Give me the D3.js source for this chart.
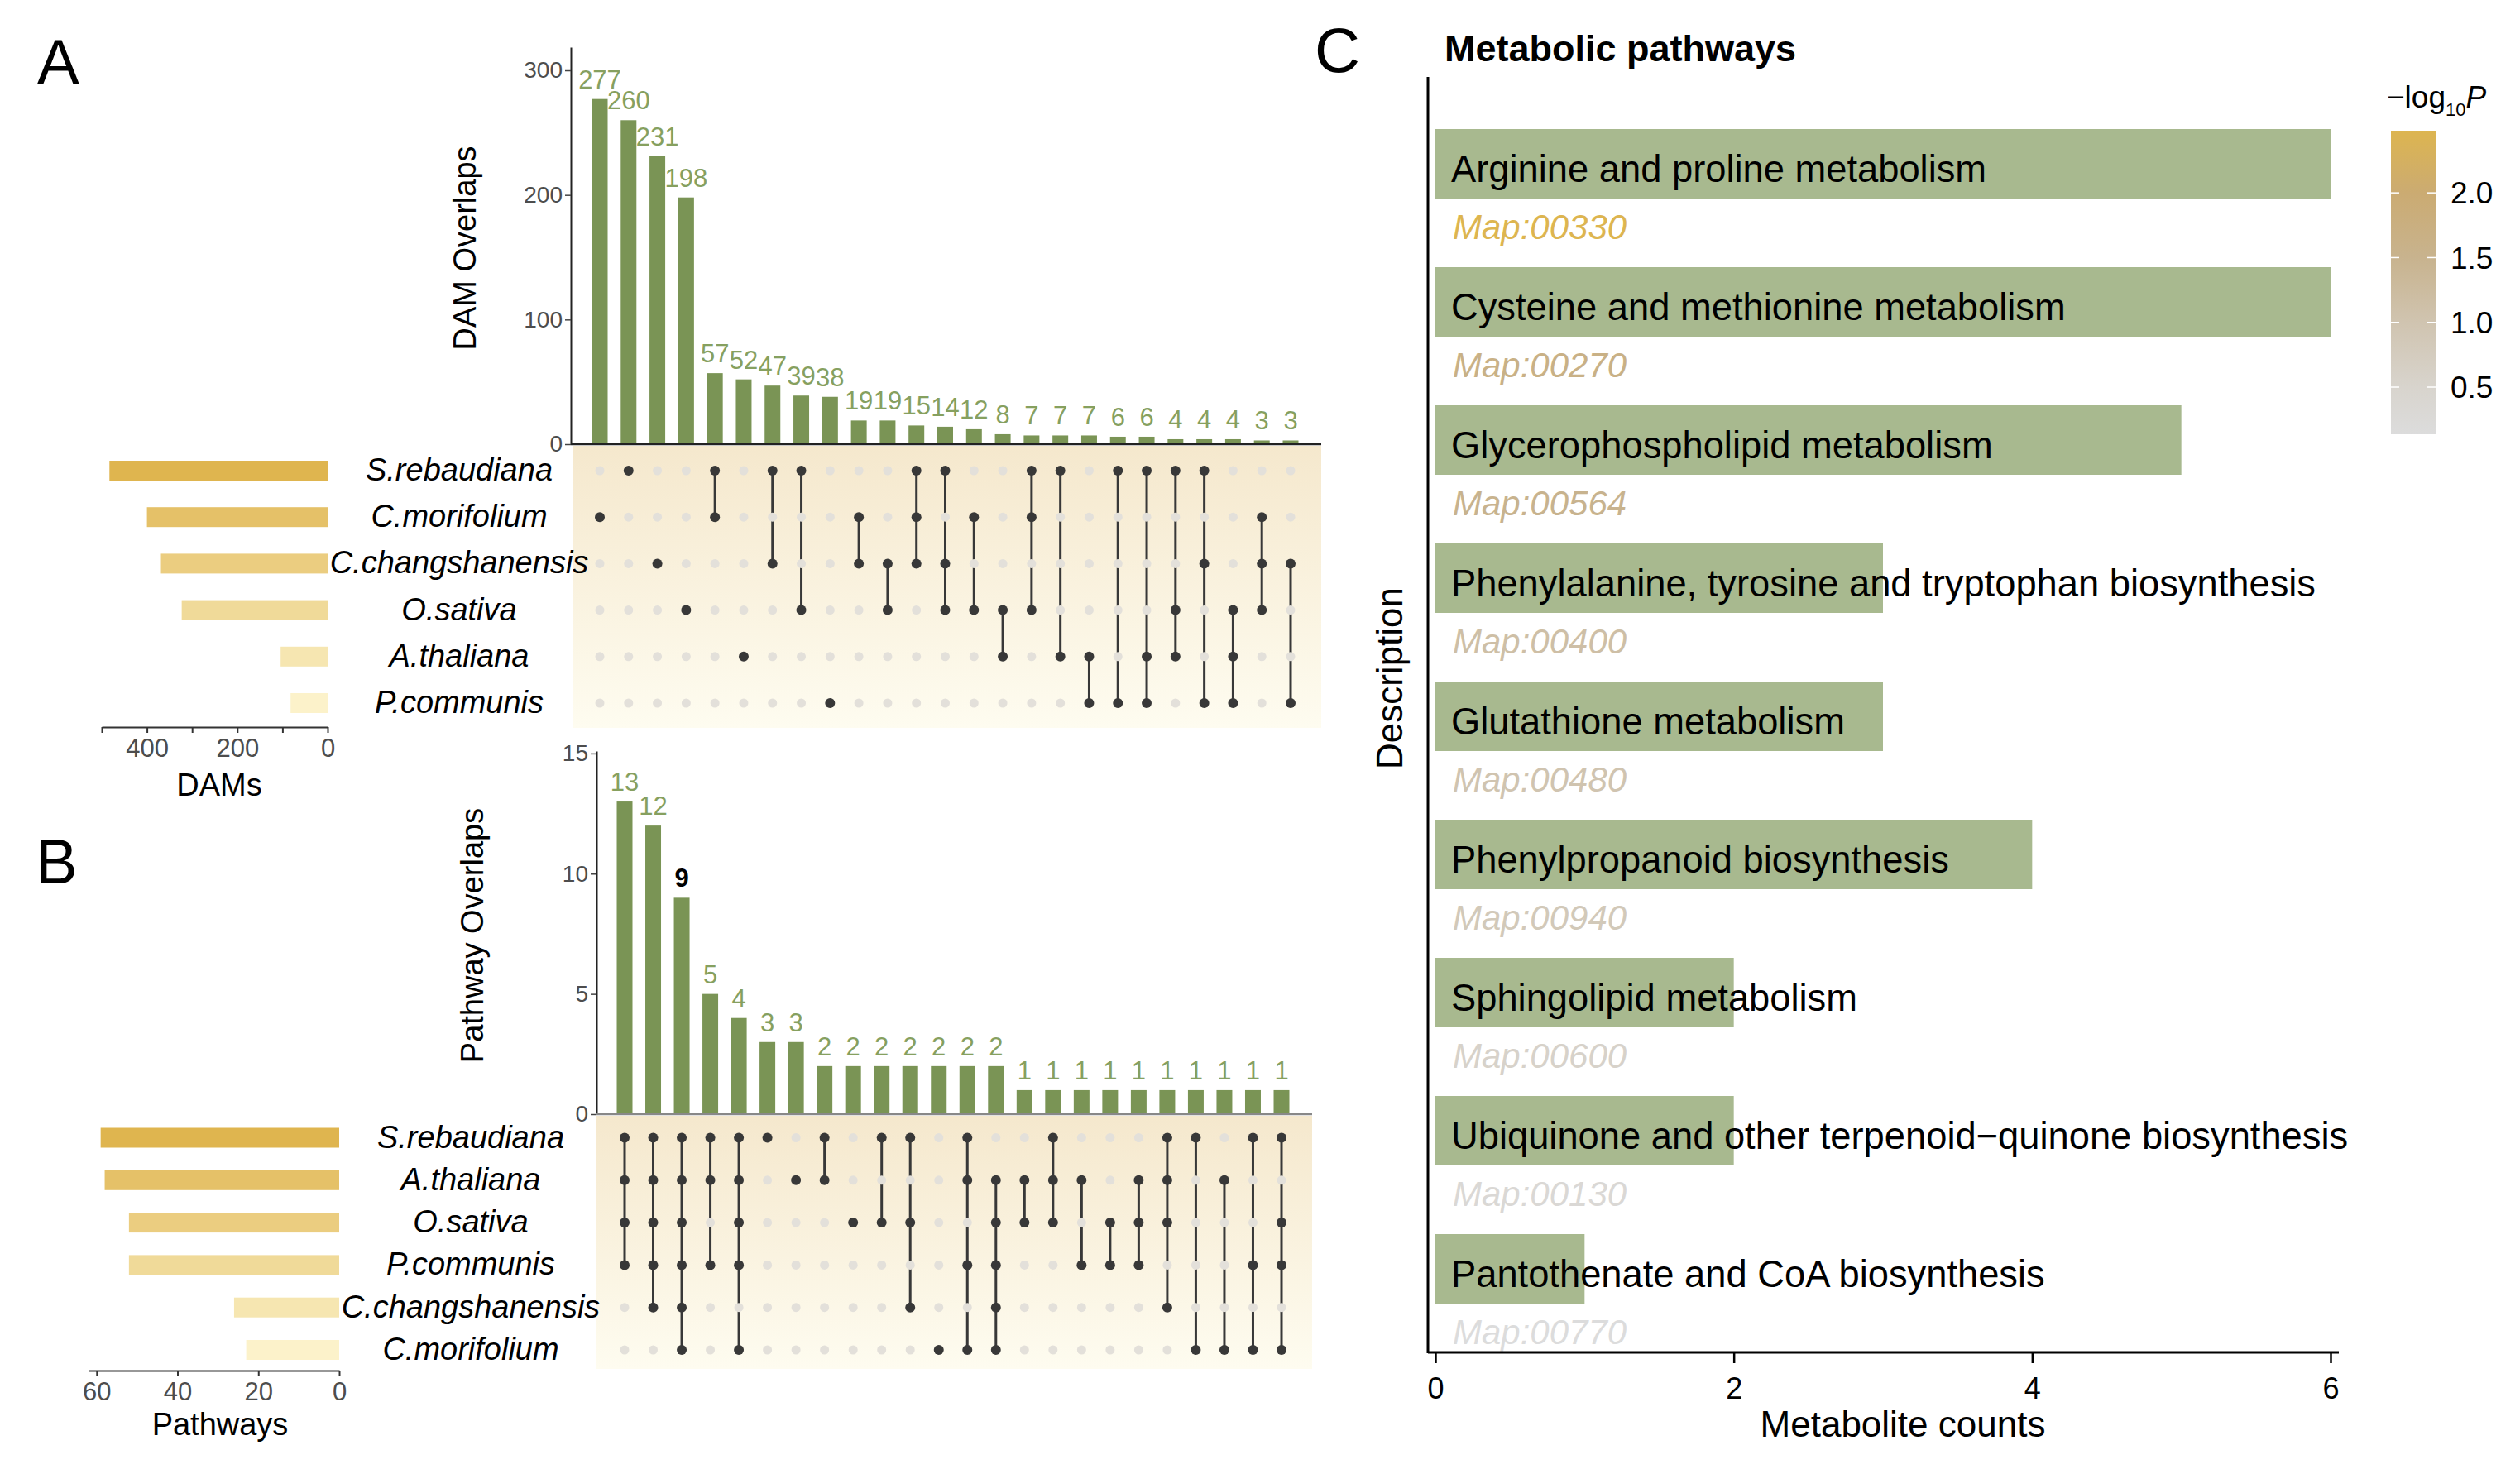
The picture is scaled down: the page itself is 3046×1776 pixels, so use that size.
<!DOCTYPE html>
<html>
<head>
<meta charset="utf-8">
<script src="https://cdn.jsdelivr.net/npm/d3@7"></script>
<style>
  body { margin: 0; background: #fff; }
  text { font-family: "Liberation Sans", Arial, Helvetica, sans-serif; }
</style>
</head>
<body>
<div id="chart"></div>
<script>
// ---- data: panel A (DAM overlaps) ----
var setsA = ["S.rebaudiana", "C.morifolium", "C.changshanensis", "O.sativa", "A.thaliana", "P.communis"];
var setSizesA = [483, 400, 369, 323, 104, 82];
var countsA = [277, 260, 231, 198, 57, 52, 47, 39, 38, 19, 19, 15, 14, 12, 8, 7, 7, 7, 6, 6, 4, 4, 4, 3, 3];
var membersA = [[1], [0], [2], [3], [0, 1], [4], [0, 2], [0, 3], [5], [1, 2], [2, 3], [0, 1, 2], [0, 2, 3],
    [1, 3], [3, 4], [0, 1, 3], [0, 4], [4, 5], [0, 5], [0, 4, 5], [0, 3, 4], [0, 2, 5], [3, 4, 5], [1, 2, 3], [2, 5]];

// ---- data: panel B (pathway overlaps) ----
var setsB = ["S.rebaudiana", "A.thaliana", "O.sativa", "P.communis", "C.changshanensis", "C.morifolium"];
var setSizesB = [59, 58, 52, 52, 26, 23];
var countsB = [13, 12, 9, 5, 4, 3, 3, 2, 2, 2, 2, 2, 2, 2, 1, 1, 1, 1, 1, 1, 1, 1, 1, 1];
var membersB = [[0, 1, 2, 3], [0, 1, 2, 3, 4], [0, 1, 2, 3, 4, 5], [0, 1, 3], [0, 1, 2, 3, 5], [0], [1], [0, 1], [2],
    [0, 2], [0, 2, 4], [5], [0, 1, 3, 5], [1, 2, 3, 4, 5], [1, 2], [0, 1, 2], [1, 3], [2, 3], [1, 2, 3], [0, 1, 2, 4],
    [0, 5], [1, 5], [0, 3, 5], [0, 2, 3, 5]];
var highlightB = 2; // the bold "9"

// ---- data: panel C (metabolic pathways) ----
var pathways = ["Arginine and proline metabolism", "Cysteine and methionine metabolism", "Glycerophospholipid metabolism",
    "Phenylalanine, tyrosine and tryptophan biosynthesis", "Glutathione metabolism", "Phenylpropanoid biosynthesis",
    "Sphingolipid metabolism", "Ubiquinone and other terpenoid\u2212quinone biosynthesis", "Pantothenate and CoA biosynthesis"];
var pathwayMaps = ["Map:00330", "Map:00270", "Map:00564", "Map:00400", "Map:00480", "Map:00940", "Map:00600", "Map:00130", "Map:00770"];
var pathwayCounts = [6, 6, 5, 3, 3, 4, 2, 2, 1];
var pathwayLogP = [2.48, 1.65, 1.5, 1.15, 1.0, 0.85, 0.55, 0.3, 0.14];
var legendTicks = [0.5, 1.0, 1.5, 2.0];
var countTicks = [0, 2, 4, 6];

var svgWidth = 3046;
var svgHeight = 1776;

var svg = d3.select("#chart")
    .append("svg")
    .attr("width", svgWidth)
    .attr("height", svgHeight)
    .style("display", "block");

svg.append("rect").attr("width", svgWidth).attr("height", svgHeight).attr("fill", "#fff");

var defs = svg.append("defs");
var matrixGrad = defs.append("linearGradient")
    .attr("id", "matrixBg")
    .attr("x1", 0).attr("y1", 0).attr("x2", 0).attr("y2", 1);
matrixGrad.append("stop").attr("offset", "0%").attr("stop-color", "#f5e8cd");
matrixGrad.append("stop").attr("offset", "100%").attr("stop-color", "#fefcf0");

var barGreen = "#7a9455";
var labelGreen = "#86a05f";
var dotDark = "#383838";
var dotLight = "#e3e0da";

// panel letters
function panelLetter(txt, x, y) {
    svg.append("text").attr("x", x).attr("y", y)
        .attr("font-size", 76).attr("fill", "#000").text(txt);
}
panelLetter("A", 45, 101);
panelLetter("B", 43, 1068);
panelLetter("C", 1589, 87);

// generic upset plot
function drawUpset(cfg) {
    var g = svg.append("g");
    var n = cfg.counts.length;
    var x = d3.scalePoint().domain(d3.range(n)).range(cfg.xRange);
    var y = d3.scaleLinear().domain(cfg.yDomain).range(cfg.yRange);
    var row = d3.scalePoint().domain(d3.range(cfg.sets.length)).range(cfg.rowRange);
    var barW = 19;

    // matrix background
    g.append("rect")
        .attr("x", cfg.matrixBox[0]).attr("y", cfg.matrixBox[1])
        .attr("width", cfg.matrixBox[2] - cfg.matrixBox[0])
        .attr("height", cfg.matrixBox[3] - cfg.matrixBox[1])
        .attr("fill", "url(#matrixBg)");

    // intersection bars
    g.selectAll(".ibar").data(cfg.counts).enter().append("rect")
        .attr("class", "ibar")
        .attr("x", (d, i) => x(i) - barW / 2)
        .attr("width", barW)
        .attr("y", d => y(d))
        .attr("height", d => y(0) - y(d))
        .attr("fill", barGreen);

    g.selectAll(".ilab").data(cfg.counts).enter().append("text")
        .attr("class", "ilab")
        .attr("x", (d, i) => x(i))
        .attr("y", d => y(d) - 13)
        .attr("text-anchor", "middle")
        .attr("font-size", 31)
        .attr("font-weight", (d, i) => i === cfg.highlight ? "bold" : "normal")
        .attr("fill", (d, i) => i === cfg.highlight ? "#000" : labelGreen)
        .text(d => d);

    // y axis
    var yAxis = g.append("g")
        .attr("transform", `translate(${cfg.axisX}, 0)`)
        .call(d3.axisLeft(y).tickValues(cfg.yTicks).tickSize(7).tickSizeOuter(0));
    yAxis.select(".domain").attr("stroke", "#222").attr("stroke-width", 2);
    yAxis.selectAll(".tick line").attr("stroke", "#444").attr("stroke-width", 1.5);
    yAxis.selectAll(".tick text").attr("font-size", 28).attr("fill", "#4d4d4d")
        .attr("font-family", "Liberation Sans, Arial, sans-serif");

    // baseline
    g.append("line")
        .attr("x1", cfg.axisX).attr("x2", cfg.matrixBox[2])
        .attr("y1", y(0)).attr("y2", y(0))
        .attr("stroke", cfg.baseColor).attr("stroke-width", 2.5);

    g.append("text")
        .attr("transform", `translate(${cfg.titleX}, ${cfg.titleY}) rotate(-90)`)
        .attr("text-anchor", "middle")
        .attr("font-size", 38)
        .attr("fill", "#000")
        .text(cfg.yTitle);

    // matrix dots and connectors
    var cols = g.selectAll(".col").data(cfg.members).enter().append("g").attr("class", "col");
    cols.append("line")
        .attr("x1", (d, i) => x(i)).attr("x2", (d, i) => x(i))
        .attr("y1", d => row(d3.min(d))).attr("y2", d => row(d3.max(d)))
        .attr("stroke", dotDark).attr("stroke-width", 3);
    cols.each(function(mem, i) {
        d3.select(this).selectAll("circle").data(d3.range(cfg.sets.length)).enter().append("circle")
            .attr("cx", x(i))
            .attr("cy", r => row(r))
            .attr("r", r => mem.indexOf(r) >= 0 ? 6 : 5.5)
            .attr("fill", r => mem.indexOf(r) >= 0 ? dotDark : dotLight);
    });

    // set size bars
    var xs = d3.scaleLinear().domain(cfg.sizeDomain).range(cfg.sizeRange);
    var shade = d3.interpolateRgb("#dfb54f", "#fcf2ca");
    g.selectAll(".sbar").data(cfg.sizes).enter().append("rect")
        .attr("class", "sbar")
        .attr("x", d => xs(d))
        .attr("width", d => xs(0) - xs(d))
        .attr("y", (d, i) => row(i) - 12)
        .attr("height", 24)
        .attr("fill", (d, i) => shade(i / (cfg.sizes.length - 1)));

    g.selectAll(".sname").data(cfg.sets).enter().append("text")
        .attr("class", "sname")
        .attr("x", cfg.nameX)
        .attr("y", (d, i) => row(i) + 12)
        .attr("text-anchor", "middle")
        .attr("font-size", 38)
        .attr("font-style", "italic")
        .attr("fill", "#000")
        .text(d => d);

    var sAxis = g.append("g")
        .attr("transform", `translate(0, ${cfg.sizeAxisY})`)
        .call(d3.axisBottom(xs).tickValues(cfg.sizeTicks).tickFormat(cfg.sizeFormat).tickSize(7).tickSizeOuter(0));
    sAxis.select(".domain").attr("stroke", "#333").attr("stroke-width", 2);
    sAxis.selectAll(".tick line").attr("stroke", "#333").attr("stroke-width", 2);
    sAxis.selectAll(".tick text").attr("font-size", 31).attr("fill", "#4d4d4d").attr("dy", "0.85em")
        .attr("font-family", "Liberation Sans, Arial, sans-serif");

    g.append("text")
        .attr("x", cfg.sizeTitleX).attr("y", cfg.sizeTitleY)
        .attr("text-anchor", "middle")
        .attr("font-size", 38)
        .attr("fill", "#000")
        .text(cfg.sizeTitle);
}

drawUpset({
    sets: setsA, sizes: setSizesA, counts: countsA, members: membersA, highlight: -1,
    xRange: [725, 1560], yDomain: [0, 318.6], yRange: [537, 57], yTicks: [0, 100, 200, 300],
    rowRange: [569, 850], axisX: 690, matrixBox: [692, 539, 1597, 880], baseColor: "#222",
    titleX: 575, titleY: 300, yTitle: "DAM Overlaps",
    sizeDomain: [0, 500], sizeRange: [396, 123], sizeTicks: [0, 100, 200, 300, 400, 500],
    sizeFormat: d => (d % 200 === 0 ? d : ""), sizeAxisY: 879,
    nameX: 555, sizeTitleX: 265, sizeTitleY: 962, sizeTitle: "DAMs"
});

drawUpset({
    sets: setsB, sizes: setSizesB, counts: countsB, members: membersB, highlight: highlightB,
    xRange: [755, 1549], yDomain: [0, 15.1], yRange: [1347, 908], yTicks: [0, 5, 10, 15],
    rowRange: [1375.5, 1632], axisX: 721, matrixBox: [721, 1349, 1586, 1655], baseColor: "#888",
    titleX: 584, titleY: 1131, yTitle: "Pathway Overlaps",
    sizeDomain: [0, 62], sizeRange: [410, 107], sizeTicks: [0, 20, 40, 60],
    sizeFormat: d => d, sizeAxisY: 1657,
    nameX: 569, sizeTitleX: 266, sizeTitleY: 1735, sizeTitle: "Pathways"
});

// ---- panel C ----
var gC = svg.append("g");
var xC = d3.scaleLinear().domain([0, 6]).range([1735, 2817]);
var yC = d3.scaleBand().domain(pathways).range([156, 1576]).paddingInner(0.497).paddingOuter(0).align(0);
var pDomain = [0.136, 2.48];
var pColor = d3.scaleLinear()
    .domain([0.136, 0.5, 1.0, 1.5, 2.0, 2.48])
    .range(["#dcdcdc", "#d8d4cd", "#d0c4b0", "#c8b38e", "#cbab72", "#ddb550"]);

gC.append("text")
    .attr("x", 1746).attr("y", 74)
    .attr("font-size", 45).attr("font-weight", "bold").attr("fill", "#000")
    .text("Metabolic pathways");

gC.selectAll(".pbar").data(pathways).enter().append("rect")
    .attr("class", "pbar")
    .attr("x", xC(0))
    .attr("y", d => yC(d))
    .attr("width", (d, i) => xC(pathwayCounts[i]) - xC(0))
    .attr("height", yC.bandwidth())
    .attr("fill", "#a8b98f");

gC.selectAll(".pname").data(pathways).enter().append("text")
    .attr("class", "pname")
    .attr("x", xC(0) + 19)
    .attr("y", d => yC(d) + 64)
    .attr("font-size", 45.3)
    .attr("fill", "#000")
    .text(d => d);

gC.selectAll(".pmap").data(pathwayMaps).enter().append("text")
    .attr("class", "pmap")
    .attr("x", xC(0) + 21)
    .attr("y", (d, i) => yC(pathways[i]) + 133)
    .attr("font-size", 42)
    .attr("font-style", "italic")
    .attr("fill", (d, i) => pColor(pathwayLogP[i]))
    .text(d => d);

// axes
var xAxisC = gC.append("g")
    .attr("transform", "translate(0, 1635)")
    .call(d3.axisBottom(xC).tickValues(countTicks).tickFormat(d3.format("d")).tickSize(13).tickSizeOuter(0));
xAxisC.select(".domain").remove();
xAxisC.selectAll(".tick line").attr("stroke", "#000").attr("stroke-width", 2.5);
xAxisC.selectAll(".tick text").attr("font-size", 36).attr("fill", "#000").attr("dy", "1.1em")
    .attr("font-family", "Liberation Sans, Arial, sans-serif");
gC.append("line").attr("x1", 1726).attr("x2", 2827).attr("y1", 1635).attr("y2", 1635)
    .attr("stroke", "#000").attr("stroke-width", 3);
gC.append("line").attr("x1", 1726).attr("x2", 1726).attr("y1", 93).attr("y2", 1636)
    .attr("stroke", "#000").attr("stroke-width", 3);

gC.append("text")
    .attr("x", 2300).attr("y", 1737)
    .attr("text-anchor", "middle").attr("font-size", 44).attr("fill", "#000")
    .text("Metabolite counts");
gC.append("text")
    .attr("transform", "translate(1695, 820) rotate(-90)")
    .attr("text-anchor", "middle").attr("font-size", 44).attr("fill", "#000")
    .text("Description");

// colour legend
var lg = d3.scaleLinear().domain(pDomain).range([525, 158]);
var legGrad = defs.append("linearGradient")
    .attr("id", "pGrad")
    .attr("x1", 0).attr("y1", 1).attr("x2", 0).attr("y2", 0);
pColor.domain().forEach(function(v) {
    legGrad.append("stop")
        .attr("offset", ((v - pDomain[0]) / (pDomain[1] - pDomain[0]) * 100) + "%")
        .attr("stop-color", pColor(v));
});
gC.append("rect")
    .attr("x", 2890).attr("y", lg(pDomain[1]))
    .attr("width", 55).attr("height", lg(pDomain[0]) - lg(pDomain[1]))
    .attr("fill", "url(#pGrad)");
gC.selectAll(".lgtickL").data(legendTicks).enter().append("line")
    .attr("x1", 2890).attr("x2", 2900).attr("y1", d => lg(d)).attr("y2", d => lg(d))
    .attr("stroke", "#fff").attr("stroke-width", 1.5);
gC.selectAll(".lgtickR").data(legendTicks).enter().append("line")
    .attr("x1", 2934).attr("x2", 2945).attr("y1", d => lg(d)).attr("y2", d => lg(d))
    .attr("stroke", "#fff").attr("stroke-width", 1.5);
gC.selectAll(".lglab").data(legendTicks).enter().append("text")
    .attr("x", 2962).attr("y", d => lg(d))
    .attr("dy", "0.36em")
    .attr("font-size", 37).attr("fill", "#000")
    .text(d => d3.format(".1f")(d));

var lt = gC.append("text").attr("x", 2885).attr("y", 130).attr("font-size", 37).attr("fill", "#000");
lt.append("tspan").text("\u2212log");
lt.append("tspan").attr("font-size", 22).attr("dy", 10).text("10");
lt.append("tspan").attr("font-style", "italic").attr("dy", -10).text("P");
</script>
</body>
</html>
